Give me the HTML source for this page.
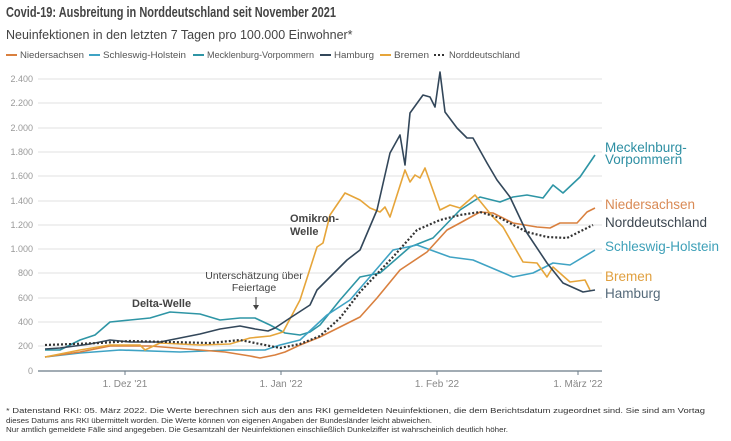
<!DOCTYPE html><html><head><meta charset="utf-8"><style>
body{margin:0;background:#fff;width:731px;height:436px;overflow:hidden;font-family:"Liberation Sans",sans-serif}
</style></head><body>
<svg width="731" height="436" xmlns="http://www.w3.org/2000/svg" font-family="Liberation Sans, sans-serif">
<text x="6" y="17" font-size="15" font-weight="bold" fill="#444" textLength="330" lengthAdjust="spacingAndGlyphs">Covid-19: Ausbreitung in Norddeutschland seit November 2021</text>
<text x="6" y="39" font-size="12.5" fill="#444">Neuinfektionen in den letzten 7 Tagen pro 100.000 Einwohner*</text>
<g font-size="9" fill="#555">
<line x1="6" y1="55" x2="17" y2="55" stroke="#d9803f" stroke-width="2"/><text x="20" y="58" textLength="64" lengthAdjust="spacingAndGlyphs">Niedersachsen</text>
<line x1="89" y1="55" x2="100" y2="55" stroke="#3fa3c4" stroke-width="2"/><text x="103" y="58" textLength="83" lengthAdjust="spacingAndGlyphs">Schleswig-Holstein</text>
<line x1="193" y1="55" x2="204" y2="55" stroke="#2e95a5" stroke-width="2"/><text x="207" y="58" textLength="107" lengthAdjust="spacingAndGlyphs">Mecklenburg-Vorpommern</text>
<line x1="320" y1="55" x2="331" y2="55" stroke="#33475a" stroke-width="2"/><text x="334" y="58" textLength="40" lengthAdjust="spacingAndGlyphs">Hamburg</text>
<line x1="380" y1="55" x2="391" y2="55" stroke="#e6a53a" stroke-width="2"/><text x="394" y="58" textLength="35" lengthAdjust="spacingAndGlyphs">Bremen</text>
<line x1="434" y1="55" x2="445" y2="55" stroke="#333" stroke-width="2" stroke-dasharray="2,2"/><text x="449" y="58" textLength="71" lengthAdjust="spacingAndGlyphs">Norddeutschland</text>
</g>
<g stroke="#ececec" stroke-width="1.5">
<line x1="38" x2="602" y1="79" y2="79"/><line x1="38" x2="602" y1="103" y2="103"/><line x1="38" x2="602" y1="128" y2="128"/><line x1="38" x2="602" y1="152" y2="152"/><line x1="38" x2="602" y1="176" y2="176"/><line x1="38" x2="602" y1="201" y2="201"/><line x1="38" x2="602" y1="225" y2="225"/><line x1="38" x2="602" y1="249" y2="249"/><line x1="38" x2="602" y1="273" y2="273"/><line x1="38" x2="602" y1="298" y2="298"/><line x1="38" x2="602" y1="322" y2="322"/><line x1="38" x2="602" y1="346" y2="346"/>
</g>
<line x1="38" x2="602" y1="371" y2="371" stroke="#6b7b88" stroke-width="1.2"/>
<g stroke="#6b7b88"><line x1="125" x2="125" y1="371" y2="375"/><line x1="281" x2="281" y1="371" y2="375"/><line x1="437" x2="437" y1="371" y2="375"/><line x1="578" x2="578" y1="371" y2="375"/></g>
<g font-size="9" fill="#999" text-anchor="end">
<text x="33" y="82">2.400</text><text x="33" y="106">2.200</text><text x="33" y="131">2.000</text><text x="33" y="155">1.800</text><text x="33" y="179">1.600</text><text x="33" y="204">1.400</text><text x="33" y="228">1.200</text><text x="33" y="252">1.000</text><text x="33" y="276">800</text><text x="33" y="301">600</text><text x="33" y="325">400</text><text x="33" y="349">200</text><text x="33" y="374">0</text>
</g>
<g font-size="10" fill="#888" text-anchor="middle">
<text x="125" y="387">1. Dez '21</text><text x="281" y="387">1. Jan '22</text><text x="437" y="387">1. Feb '22</text><text x="578" y="387">1. März '22</text>
</g>
<g fill="none" stroke-width="1.6" stroke-linejoin="round">
<polyline stroke="#2e95a5" points="45,350 60,350 80,340 95,335 110,322 130,320 150,318 170,312 200,314 220,320 240,318 255,318 270,325 285,333 300,335 310,332 320,325 340,300 360,277 380,273 410,247 433,238 460,210 480,197 500,202 513,197 527,195 543,198 553,185 563,193 580,177 595,155"/>
<polyline stroke="#3fa3c4" points="45,357 80,353 120,350 180,352 230,350 265,350 280,345 300,340 327,315 350,300 393,250 417,245 450,257 473,260 513,277 533,273 553,263 570,265 595,250"/>
<polyline stroke="#d9803f" points="45,357 80,352 110,346 150,346 175,348 200,350 225,352 250,356 260,358 275,355 285,352 300,345 320,337 340,327 360,317 377,298 400,270 427,252 447,230 460,223 480,212 493,213 513,223 537,227 550,228 560,223 577,223 587,212 595,208"/>
<polyline stroke="#e6a53a" points="45,357 80,350 110,345 140,345 145,350 160,343 200,345 230,344 250,338 270,336 283,332 300,300 317,247 323,243 330,215 345,193 360,200 370,208 380,212 385,207 390,217 405,170 410,182 415,175 420,178 425,168 440,210 450,205 460,208 475,195 493,217 503,227 523,262 537,263 547,277 553,267 570,282 585,280 590,290"/>
<polyline stroke="#33475a" points="45,349 60,348 90,344 110,340 130,342 160,342 180,338 200,334 220,329 240,326 255,329 268,331 275,328 290,318 310,305 317,290 335,272 347,260 360,250 377,210 390,153 400,135 405,165 410,113 423,95 430,97 435,107 440,72 445,112 457,128 467,138 473,138 487,163 497,180 510,197 527,233 547,263 563,283 583,292 595,290"/>
<polyline stroke="#333" stroke-width="2.2" stroke-dasharray="2,2" points="45,345 100,343 130,341 170,342 210,343 240,340 260,344 280,348 300,344 320,336 340,318 360,292 393,257 417,230 440,220 460,215 480,212 500,218 527,232 547,237 567,238 593,225"/>
</g>
<g font-size="11" fill="#444">
<text x="132" y="307" font-weight="bold">Delta-Welle</text>
<text x="290" y="222" font-weight="bold">Omikron-</text><text x="290" y="235" font-weight="bold">Welle</text>
<text x="254" y="279" text-anchor="middle" font-size="10.5">Unterschätzung über</text>
<text x="254" y="291" text-anchor="middle" font-size="10.5">Feiertage</text>
</g>
<line x1="256" y1="297" x2="256" y2="308" stroke="#444"/><path d="M253,305 L256,310 L259,305Z" fill="#444"/>
<g font-size="13.5">
<text x="605" y="152" fill="#2e8fa3">Meckelnburg-</text><text x="605" y="164" fill="#2e8fa3">Vorpommern</text>
<text x="605" y="209" fill="#d98a55">Niedersachsen</text>
<text x="605" y="227" fill="#3c4650">Norddeutschland</text>
<text x="605" y="251" fill="#3ea0b8">Schleswig-Holstein</text>
<text x="605" y="281" fill="#e0a040">Bremen</text>
<text x="605" y="298" fill="#556a7a">Hamburg</text>
</g>
<g font-size="7.5" fill="#333">
<text x="6" y="413" textLength="699" lengthAdjust="spacingAndGlyphs">* Datenstand RKI: 05. März 2022. Die Werte berechnen sich aus den ans RKI gemeldeten Neuinfektionen, die dem Berichtsdatum zugeordnet sind. Sie sind am Vortag</text>
<text x="6" y="423" textLength="426" lengthAdjust="spacingAndGlyphs">dieses Datums ans RKI übermittelt worden. Die Werte können von eigenen Angaben der Bundesländer leicht abweichen.</text>
<text x="6" y="432" textLength="502" lengthAdjust="spacingAndGlyphs">Nur amtlich gemeldete Fälle sind angegeben. Die Gesamtzahl der Neuinfektionen einschließlich Dunkelziffer ist wahrscheinlich deutlich höher.</text>
</g>
</svg>
</body></html>
